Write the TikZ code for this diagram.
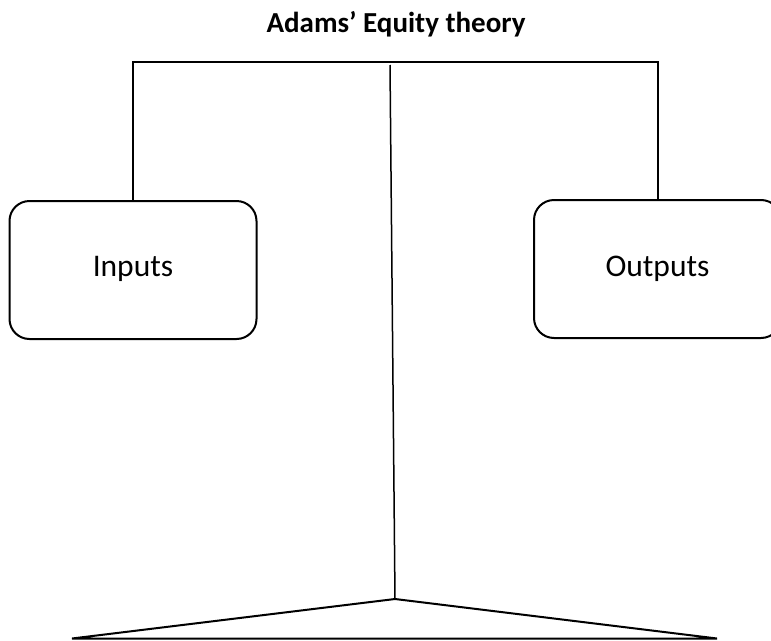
\documentclass[tikz,border=0pt]{standalone}
\usepackage{fontspec}
\setmainfont{Carlito}
\begin{document}
\begin{tikzpicture}[x=1pt,y=-1pt,
  conn/.style={line width=2pt,line cap=rect},
  boxst/.style={draw,line width=2pt,rounded corners=20pt,minimum width=247pt,minimum height=138pt,inner sep=0pt,align=center,font=\fontsize{31.5}{36}\selectfont},
  titlest/.style={font=\bfseries\fontsize{29}{34}\selectfont,inner sep=0pt}]
\useasboundingbox (0,0) rectangle (771,640);
\clip (0,0) rectangle (771,640);
\fill[white] (0,0) rectangle (771,640);
\node[titlest] (title) at (396,24) {Adams’ Equity theory};
\node[boxst] (in) at (133,270) {\raisebox{7pt}{Inputs}};
\node[boxst] (out) at (657.5,269) {\raisebox{6pt}{Outputs}};
\coordinate (topmid) at (395,62);
\coordinate (ctop) at (390,65);
\coordinate (apex) at (395,599);
\coordinate (bl) at (72,638.5);
\coordinate (br) at (717,638.5);
\draw[conn] (in.north) |- (topmid) -| (out.north);
\draw[line width=1.5pt] (ctop) -- (apex);
\draw[line width=2pt,line join=miter] (apex) -- (bl) -- (br) -- cycle;
\end{tikzpicture}
\end{document}
